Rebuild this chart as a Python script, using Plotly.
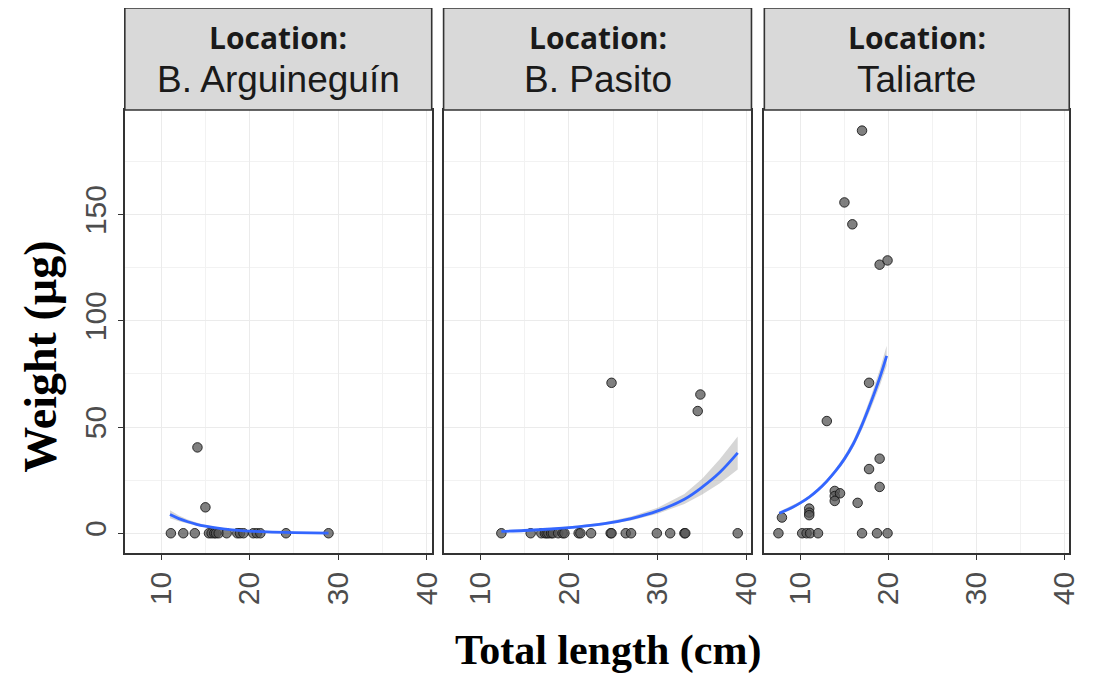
import plotly.graph_objects as go

OFF = 8  # browser body margin
W, H = 1106 - OFF, 677 - OFF

locations = ["B. Arguineguín", "B. Pasito", "Taliarte"]

# ---- observed points (Total length cm, Weight µg) ----
arg_x = [11.1, 12.5, 13.8, 15.4, 15.7, 16.0, 16.2, 16.5, 17.4, 18.6, 18.9, 19.3,
         20.4, 20.8, 21.2, 24.1, 28.9, 14.1, 15.0]
arg_y = [0, 0, 0, 0, 0, 0, 0, 0, 0, 0, 0, 0,
         0, 0, 0, 0, 0, 40.4, 12.2]

pas_x = [12.4, 15.7, 16.9, 17.3, 17.5, 17.7, 18.0, 18.2, 18.8, 19.3, 19.5, 21.1,
         21.3, 22.5, 24.7, 24.8, 26.4, 27.0, 29.9, 31.4, 33.0, 33.1, 39.0,
         24.8, 34.8, 34.5]
pas_y = [0, 0, 0, 0, 0, 0, 0, 0, 0, 0, 0, 0,
         0, 0, 0, 0, 0, 0, 0, 0, 0, 0, 0,
         70.8, 65.3, 57.5]

tal_x = [17.0, 15.0, 15.9, 19.0, 19.9, 17.8, 13.0, 19.0, 17.8, 19.0, 16.5,
         13.9, 13.9, 14.5, 13.9, 11.0, 11.0, 11.0, 7.9,
         7.5, 10.2, 10.7, 11.1, 12.0, 17.0, 18.7, 19.9]
tal_y = [189.5, 155.7, 145.4, 126.4, 128.4, 70.8, 52.8, 35.1, 30.2, 21.8, 14.3,
         19.9, 17.5, 18.8, 15.2, 11.6, 9.7, 8.5, 7.4,
         0, 0, 0, 0, 0, 0, 0, 0]

# ---- fitted curves (x, fit, lower, upper) ----
arg_fx = [11.0, 12.0, 13.0, 14.0, 15.0, 16.0, 18.0, 20.0, 22.0, 25.0, 28.9]
arg_fy = [8.8, 6.9, 5.4, 4.2, 3.3, 2.6, 1.6, 1.0, 0.6, 0.3, 0.1]
arg_lo = [7.0, 5.6, 4.4, 3.5, 2.7, 2.1, 1.2, 0.7, 0.4, 0.2, 0.0]
arg_hi = [10.8, 8.4, 6.5, 5.0, 3.9, 3.1, 2.0, 1.3, 0.9, 0.5, 0.3]

pas_fx = [12.4, 15.0, 18.0, 21.0, 24.0, 27.0, 30.0, 33.0, 35.0, 37.0, 39.0]
pas_fy = [0.9, 1.3, 2.0, 3.0, 4.5, 6.9, 10.5, 16.0, 21.7, 28.7, 37.8]
pas_lo = [0.6, 1.0, 1.6, 2.5, 3.9, 6.0, 9.2, 13.8, 18.2, 23.5, 30.0]
pas_hi = [1.3, 1.7, 2.5, 3.6, 5.2, 7.9, 12.0, 18.5, 25.6, 35.0, 45.5]

tal_fx = [7.6, 9.0, 10.0, 11.0, 12.0, 13.0, 14.0, 15.0, 16.0, 17.0, 18.0, 19.0, 19.8]
tal_fy = [9.4, 12.0, 14.3, 17.0, 20.4, 24.5, 29.3, 35.0, 42.0, 51.0, 61.5, 73.0, 83.5]
tal_lo = [8.6, 11.2, 13.6, 16.3, 19.7, 23.7, 28.3, 33.7, 40.3, 48.8, 58.6, 69.2, 78.8]
tal_hi = [10.2, 12.8, 15.0, 17.7, 21.1, 25.3, 30.3, 36.3, 43.7, 53.2, 64.4, 76.8, 88.2]

x_ticks = [10, 20, 30, 40]
y_ticks = [0, 50, 100, 150]

data = [
    (arg_x, arg_y, arg_fx, arg_fy, arg_lo, arg_hi),
    (pas_x, pas_y, pas_fx, pas_fy, pas_lo, pas_hi),
    (tal_x, tal_y, tal_fx, tal_fy, tal_lo, tal_hi),
]

# ---- layout geometry (screen pixels in the reference) ----
xdom_px = [(126, 436), (448, 759), (772, 1080)]
plot_top, plot_bot = 110, 553
strip_top = 8


def px_x(p):
    return (p - OFF) / W


def px_y(p):
    return 1 - (p - OFF) / H


fig = go.Figure()

for i, (px, py, fx, fy, lo, hi) in enumerate(data):
    sx = "" if i == 0 else str(i + 1)
    xa, ya = "x" + sx, "y" + sx
    fig.add_trace(go.Scatter(
        x=px, y=py, mode="markers", xaxis=xa, yaxis=ya, showlegend=False,
        marker=dict(size=9.5, color="rgba(85,85,85,0.75)",
                    line=dict(color="rgba(20,20,20,0.85)", width=1)),
    ))
    fig.add_trace(go.Scatter(
        x=fx + fx[::-1], y=hi + lo[::-1], mode="lines", fill="toself",
        fillcolor="rgba(153,153,153,0.4)", line=dict(width=0),
        xaxis=xa, yaxis=ya, showlegend=False, hoverinfo="skip",
    ))
    fig.add_trace(go.Scatter(
        x=fx, y=fy, mode="lines", line=dict(color="#3366FF", width=2.8, shape="spline"),
        xaxis=xa, yaxis=ya, showlegend=False,
    ))

grid_major = "#EBEBEB"
grid_minor = "#F2F2F2"
border = "#333333"
tickfont = dict(family="Liberation Sans, Arial", size=30, color="#4D4D4D")

layout = dict(
    width=W, height=H, plot_bgcolor="white", paper_bgcolor="white",
    margin=dict(l=0, r=0, t=0, b=0), showlegend=False,
)
for i, (a, b) in enumerate(xdom_px):
    sx = "" if i == 0 else str(i + 1)
    layout["xaxis" + sx] = dict(
        domain=[px_x(a), px_x(b)], range=[5.9, 40.55], anchor="y" + sx,
        tickvals=x_ticks, ticktext=[str(t) for t in x_ticks], tickangle=-90,
        tickfont=tickfont, ticks="outside", ticklen=5, tickcolor=border,
        showline=True, linecolor=border, linewidth=1.6, mirror=True,
        showgrid=True, gridcolor=grid_major, gridwidth=1.3, zeroline=False,
        minor=dict(dtick=5, tick0=0, showgrid=True, gridcolor=grid_minor, gridwidth=0.9),
    )
    layout["yaxis" + sx] = dict(
        domain=[px_y(plot_bot), px_y(plot_top)], range=[-9.3, 199.2],
        anchor="x" + sx,
        tickvals=y_ticks, ticktext=[str(t) for t in y_ticks], tickangle=-90,
        tickfont=tickfont, ticks="outside" if i == 0 else "", ticklen=5,
        tickcolor=border, showticklabels=(i == 0),
        showline=True, linecolor=border, linewidth=1.6, mirror=True,
        showgrid=True, gridcolor=grid_major, gridwidth=1.3, zeroline=False,
        minor=dict(dtick=25, tick0=0, showgrid=True, gridcolor=grid_minor, gridwidth=0.9),
    )
fig.update_layout(**layout)

shapes = []
annotations = []
for i, (a, b) in enumerate(xdom_px):
    shapes.append(dict(
        type="rect", xref="paper", yref="paper",
        x0=px_x(a), x1=px_x(b), y0=px_y(plot_top), y1=px_y(strip_top),
        fillcolor="#D9D9D9", line=dict(color=border, width=1.6), layer="above",
    ))
    cx = px_x((a + b) / 2)
    annotations.append(dict(
        text="<b>Location:</b>", x=cx, y=px_y(37), xref="paper", yref="paper",
        showarrow=False, xanchor="center", yanchor="middle",
        font=dict(family="Open Sans", size=30, color="#1A1A1A"),
    ))
    annotations.append(dict(
        text=locations[i], x=cx, y=px_y(80), xref="paper", yref="paper",
        showarrow=False, xanchor="center", yanchor="middle",
        font=dict(family="Liberation Sans, Arial", size=37, color="#1A1A1A"),
    ))

annotations.append(dict(
    text="<b>Total length (cm)</b>", x=px_x(614), y=px_y(650), xref="paper", yref="paper",
    showarrow=False, xanchor="center", yanchor="middle",
    font=dict(family="Liberation Serif, Times New Roman", size=42, color="black"),
))
annotations.append(dict(
    text="<b>Weight (µg)</b>", x=px_x(40), y=px_y(357), xref="paper", yref="paper",
    showarrow=False, xanchor="center", yanchor="middle", textangle=-90,
    font=dict(family="Liberation Serif, Times New Roman", size=46, color="black"),
))
fig.update_layout(shapes=shapes, annotations=annotations)

fig.write_html("out.html")
